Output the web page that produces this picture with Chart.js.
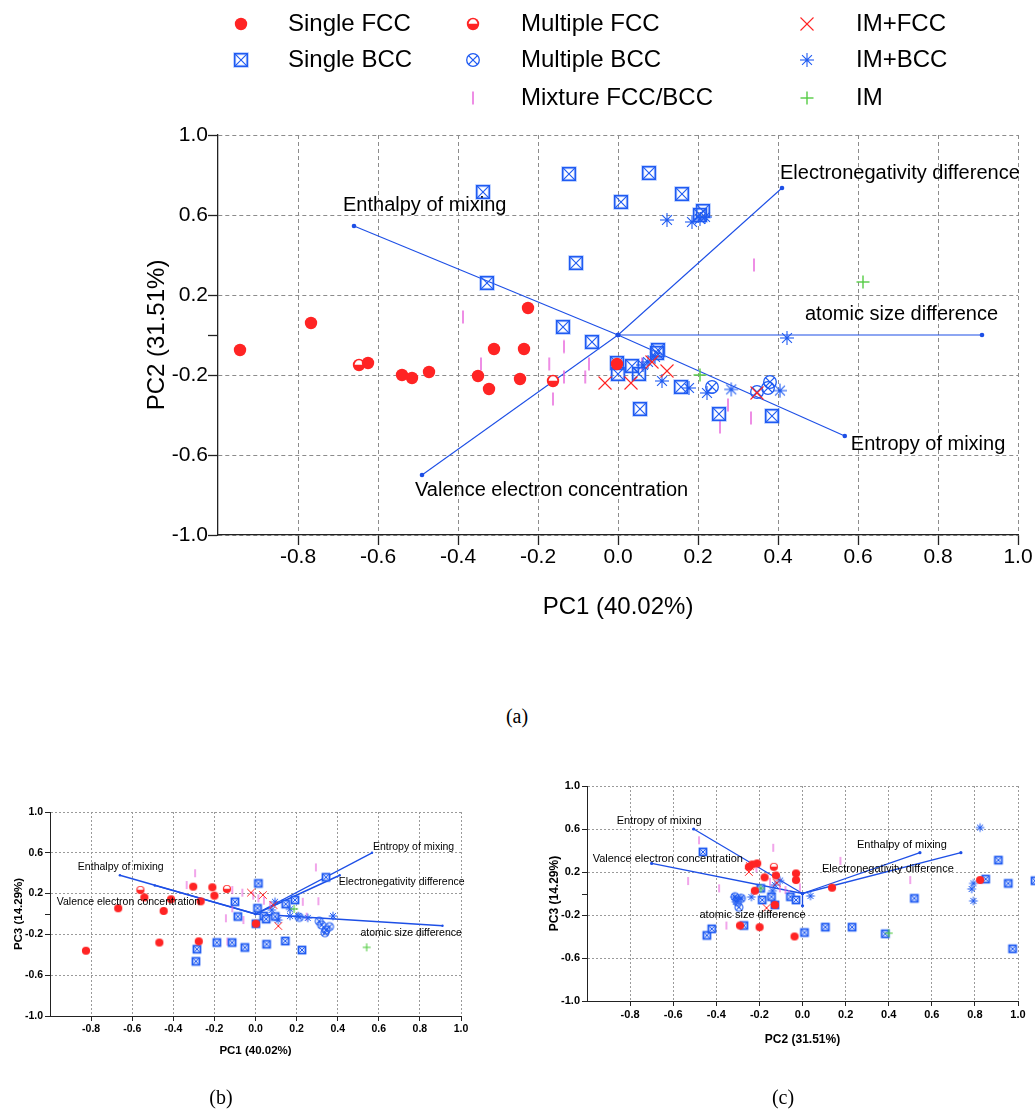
<!DOCTYPE html>
<html>
<head>
<meta charset="utf-8">
<script src="https://cdn.jsdelivr.net/npm/chart.js@4.4.1/dist/chart.umd.min.js"></script>
<style>
  html, body { margin: 0; padding: 0; background: #fff; }
  #page { position: relative; width: 1035px; height: 1110px; overflow: hidden; }
  canvas { position: absolute; }
  #chartA { left: 0; top: 0; }
  #chartB { left: 0; top: 770px; }
  #chartC { left: 520px; top: 760px; }
  .cap { position: absolute; font: 20px "Liberation Serif", "Times New Roman", serif; color: #000; transform: translate(-50%, -50%); }
</style>
</head>
<body>
<div id="page">
  <canvas id="chartA" width="1035" height="660"></canvas>
  <canvas id="chartB" width="520" height="340"></canvas>
  <canvas id="chartC" width="515" height="350"></canvas>
  <div class="cap" style="left:517px;top:716px">(a)</div>
  <div class="cap" style="left:221px;top:1097px">(b)</div>
  <div class="cap" style="left:783px;top:1097px">(c)</div>
</div>
<script>
// phase classes
const classKeys = ["singleFCC", "multiFCC", "imFCC", "singleBCC", "multiBCC", "imBCC", "mixture", "im"];
const classNames = ["Single FCC", "Multiple FCC", "IM+FCC", "Single BCC", "Multiple BCC", "IM+BCC", "Mixture FCC/BCC", "IM"];

// loading vectors
const loadingNames = ["Enthalpy of mixing", "Electronegativity difference", "atomic size difference", "Entropy of mixing", "Valence electron concentration"];
const loadPC1 = [-0.66, 0.41, 0.91, 0.567, -0.49];
const loadPC2 = [0.545, 0.735, 0.0, -0.505, -0.70];
const loadPC3 = [0.38, 0.38, -0.115, 0.60, 0.28];

// axis ticks
const xTickValues = [-0.8, -0.6, -0.4, -0.2, 0.0, 0.2, 0.4, 0.6, 0.8, 1.0];
const yTickValues = [-1.0, -0.6, -0.2, 0.2, 0.6, 1.0];
const yMinorTicks = [0.0];

// scores, PC1 vs PC2
const aSingleFCC = [[-0.945, -0.075], [-0.7675, 0.06], [-0.625, -0.14], [-0.54, -0.2], [-0.515, -0.215], [-0.4725, -0.185], [-0.35, -0.205], [-0.3225, -0.27], [-0.31, -0.07], [-0.235, -0.07], [-0.245, -0.22], [-0.225, 0.135], [-0.0025, -0.145]];
const aMultiFCC = [[-0.6475, -0.15], [-0.1625, -0.23]];
const aIMFCC = [[-0.0325, -0.24], [0.0325, -0.24], [0.1225, -0.18], [0.085, -0.135], [0.3475, -0.29]];
const aSingleBCC = [[-0.3375, 0.715], [-0.1225, 0.805], [0.0775, 0.81], [0.16, 0.705], [0.2125, 0.62], [0.205, 0.6], [0.0075, 0.665], [-0.105, 0.36], [-0.3275, 0.26], [-0.1375, 0.04], [-0.065, -0.035], [-0.0025, -0.14], [0.0, -0.195], [0.035, -0.155], [0.0525, -0.195], [0.1, -0.075], [0.0975, -0.09], [0.055, -0.37], [0.1575, -0.26], [0.2525, -0.395], [0.385, -0.405]];
const aMultiBCC = [[0.235, -0.26], [0.3475, -0.285], [0.375, -0.265], [0.38, -0.235]];
const aIMBCC = [[0.4225, -0.015], [0.11, -0.23], [0.1775, -0.265], [0.2225, -0.29], [0.283, -0.272], [0.405, -0.278], [0.0625, -0.15], [0.075, -0.135], [0.0925, -0.11], [0.1225, 0.575], [0.185, 0.565], [0.205, 0.58], [0.2175, 0.59]];
const aMixture = [[-0.3875, 0.09], [-0.3425, -0.145], [-0.172, -0.145], [-0.135, -0.058], [-0.135, -0.21], [-0.1625, -0.32], [-0.082, -0.21], [-0.0725, -0.145], [0.06, -0.145], [0.275, -0.35], [0.255, -0.46], [0.3325, -0.415], [0.34, 0.35]];
const aIM = [[0.205, -0.2], [0.6125, 0.265]];

// scores, PC1 vs PC3
const bSingleFCC = [[-0.825, -0.36], [-0.668, 0.056], [-0.541, 0.163], [-0.447, 0.03], [-0.411, 0.144], [-0.468, -0.28], [-0.303, 0.268], [-0.267, 0.124], [-0.276, -0.268], [-0.21, 0.262], [-0.2, 0.18], [0.002, -0.095]];
const bMultiFCC = [[-0.56, 0.235], [-0.139, 0.245]];
const bIMFCC = [[-0.022, 0.21], [0.036, 0.186], [0.087, 0.088], [0.111, -0.118]];
const bSingleBCC = [[0.014, 0.3], [-0.1, 0.12], [-0.086, -0.025], [0.01, 0.056], [0.04, -0.02], [0.052, -0.05], [0.096, -0.024], [0.147, 0.097], [0.192, 0.137], [0.343, 0.36], [0.002, -0.095], [-0.285, -0.345], [-0.29, -0.464], [-0.188, -0.28], [-0.114, -0.28], [-0.052, -0.328], [0.054, -0.297], [0.145, -0.265], [0.226, -0.353]];
const bMultiBCC = [[0.213, -0.033], [0.31, -0.07], [0.322, -0.108], [0.343, -0.157], [0.338, -0.183], [0.36, -0.124]];
const bIMBCC = [[0.079, 0.04], [0.095, 0.12], [0.111, -0.06], [0.168, 0.046], [0.168, -0.02], [0.208, -0.02], [0.254, -0.038], [0.377, -0.02]];
const bMixture = [[-0.294, 0.4], [-0.335, 0.284], [-0.113, 0.235], [-0.064, 0.209], [-0.011, 0.18], [-0.113, 0.056], [-0.144, -0.042], [-0.059, -0.059], [-0.137, -0.27], [0.294, 0.457], [0.306, 0.125], [0.23, 0.12], [0.249, -0.026], [0.014, 0.154], [0.071, 0.088], [0.041, 0.13]];
const bIM = [[0.541, -0.327], [0.188, 0.05]];

// scores, PC2 vs PC3
const cSingleFCC = [[-0.29, -0.298], [-0.199, -0.313], [-0.037, -0.4], [-0.221, 0.026], [-0.176, 0.15], [-0.21, 0.28], [-0.233, 0.27], [-0.249, 0.248], [-0.123, 0.168], [-0.03, 0.187], [-0.03, 0.125], [0.137, 0.054], [0.824, 0.125], [-0.128, -0.106]];
const cMultiFCC = [[-0.133, 0.248]];
const cIMFCC = [[-0.249, 0.2], [-0.244, 0.255], [-0.12, 0.1], [-0.167, -0.134]];
const cSingleBCC = [[-0.462, 0.387], [-0.444, -0.39], [-0.421, -0.329], [-0.272, -0.298], [-0.194, 0.048], [-0.187, -0.06], [-0.144, -0.03], [-0.056, -0.03], [-0.03, -0.06], [-0.128, -0.106], [0.009, -0.363], [0.106, -0.313], [0.23, -0.313], [0.384, -0.375], [0.519, -0.045], [0.909, 0.31], [0.85, 0.134], [0.955, 0.094], [0.975, -0.514], [1.079, 0.119]];
const cMultiBCC = [[-0.313, -0.03], [-0.284, -0.045], [-0.302, -0.076], [-0.295, -0.128]];
const cIMBCC = [[0.824, 0.613], [0.793, 0.094], [0.785, 0.042], [0.793, -0.069], [0.037, -0.023], [-0.237, -0.033], [-0.315, -0.032], [-0.287, -0.044], [-0.31, -0.076], [-0.104, 0.12], [-0.128, 0.079], [-0.139, 0.026]];
const cMixture = [[-0.48, 0.495], [-0.136, 0.425], [-0.531, 0.116], [-0.387, 0.048], [-0.353, -0.298], [0.176, 0.304], [0.5, 0.125], [-0.151, 0.109], [-0.105, 0.048], [-0.079, 0.032], [-0.012, 0.057], [-0.214, 0.233], [-0.063, -0.005]];
const cIM = [[-0.194, 0.048], [0.4, -0.369]];

const RED = "#ff2424";
const BLUE = "#1f5bf2";
const PINK = "#e868dc";
const GREEN = "#55cc44";
const VEC = "#1d4fe6";

// higher order is painted first
const drawOrder = [2, 3, 5, 8, 6, 7, 9, 4];

Chart.defaults.font.family = '"Liberation Sans", Arial, sans-serif';
Chart.defaults.color = "#000";

function line(g, x1, y1, x2, y2) {
  g.beginPath();
  g.moveTo(x1, y1);
  g.lineTo(x2, y2);
  g.stroke();
}

function makeMarker(kind, big) {
  const size = big ? 24 : 14;
  const c = document.createElement("canvas");
  c.width = c.height = size;
  const g = c.getContext("2d");
  g.translate(size / 2, size / 2);
  g.lineCap = "butt";
  if (kind === "singleFCC" || kind === "multiFCC") {
    const r = big ? 6.2 : 4.1;
    g.fillStyle = RED;
    g.beginPath(); g.arc(0, 0, r, 0, Math.PI * 2); g.fill();
    if (kind === "multiFCC") {
      g.fillStyle = "#fff";
      g.beginPath(); g.arc(0, -0.3, r * 0.7, Math.PI, Math.PI * 2); g.closePath(); g.fill();
    }
  } else if (kind === "singleBCC") {
    if (big) {
      const h = 6.3;
      g.strokeStyle = "rgba(90,140,255,0.35)"; g.lineWidth = 3.2;
      g.strokeRect(-h, -h, 2 * h, 2 * h);
      g.strokeStyle = BLUE; g.lineWidth = 1.5;
      g.strokeRect(-h, -h, 2 * h, 2 * h);
      g.lineWidth = 1.1;
      line(g, -h, -h, h, h); line(g, -h, h, h, -h);
    } else {
      const h = 4.4;
      g.fillStyle = BLUE;
      g.fillRect(-h, -h, 2 * h, 2 * h);
      g.fillStyle = "#dfe8ff";
      g.fillRect(-2.6, -2.6, 5.2, 5.2);
      g.strokeStyle = BLUE; g.lineWidth = 1;
      line(g, -2.6, -2.6, 2.6, 2.6); line(g, -2.6, 2.6, 2.6, -2.6);
    }
  } else if (kind === "multiBCC") {
    const r = big ? 6.3 : 4;
    const k = r * 0.7;
    g.strokeStyle = BLUE; g.lineWidth = big ? 1.3 : 1.1;
    g.beginPath(); g.arc(0, 0, r, 0, Math.PI * 2); g.stroke();
    line(g, -k, -k, k, k); line(g, -k, k, k, -k);
  } else if (kind === "mixture") {
    const h = big ? 6.5 : 4;
    g.strokeStyle = PINK; g.lineWidth = big ? 1.5 : 1.2;
    line(g, 0, -h, 0, h);
  } else if (kind === "imFCC") {
    const h = big ? 6.5 : 3.8;
    g.strokeStyle = RED; g.lineWidth = big ? 1.1 : 1;
    line(g, -h, -h, h, h); line(g, -h, h, h, -h);
  } else if (kind === "imBCC") {
    const r = big ? 7 : 4.3;
    g.strokeStyle = BLUE; g.lineWidth = big ? 1.1 : 1;
    for (let a = 0; a < 4; a++) {
      const t = a * Math.PI / 4;
      line(g, -r * Math.cos(t), -r * Math.sin(t), r * Math.cos(t), r * Math.sin(t));
    }
    g.fillStyle = BLUE;
    g.beginPath(); g.arc(0, 0, big ? 1.6 : 1.3, 0, Math.PI * 2); g.fill();
  } else if (kind === "im") {
    const h = big ? 6.5 : 4;
    g.strokeStyle = GREEN; g.lineWidth = big ? 1.4 : 1.1;
    line(g, -h, 0, h, 0); line(g, 0, -h, 0, h);
  }
  return c;
}

const bigMarkers = {};
const smallMarkers = {};
classKeys.forEach((k) => {
  bigMarkers[k] = makeMarker(k, true);
  smallMarkers[k] = makeMarker(k, false);
});

function pointSets(series, markers) {
  return classKeys.map((key, i) => ({
    label: classNames[i],
    data: series[i].map(([x, y]) => ({ x, y })),
    pointStyle: markers[key],
    pointRadius: 20,
    pointHoverRadius: 20,
    order: drawOrder[i],
    clip: false
  }));
}

function vectorSets(xs, ys, width, tipR) {
  return loadingNames.map((name, i) => ({
    label: name,
    data: [{ x: 0, y: 0 }, { x: xs[i], y: ys[i] }],
    showLine: true,
    borderColor: VEC,
    borderWidth: width,
    pointRadius: tipR,
    pointBorderWidth: 0,
    pointBackgroundColor: VEC,
    pointStyle: "circle",
    order: 20
  }));
}

function fmt(v) {
  return Math.abs(v) < 1e-9 ? "0.0" : Number(v).toFixed(1);
}

// the scale box is held at a fixed size so the plot area lands where wanted
function axis(values, boxSize, font, tickLen, pad, gridColor, dash, borderW) {
  return {
    type: "linear",
    min: -1,
    max: 1,
    afterBuildTicks: (s) => { s.ticks = values.map((v) => ({ value: v })); },
    afterFit: (s) => { if (s.isHorizontal()) s.height = boxSize; else s.width = boxSize; },
    ticks: { font, padding: pad, color: "#000", autoSkip: false, maxRotation: 0, minRotation: 0, callback: fmt },
    grid: { color: gridColor, lineWidth: 1, tickLength: tickLen, tickColor: "#222", tickWidth: borderW },
    border: { display: true, color: "#222", width: borderW, dash }
  };
}

// titles, loading labels, minor ticks and the class key
const overlay = {
  id: "overlay",
  afterDraw(chart, args, o) {
    const { ctx, chartArea: a, scales: { x, y } } = chart;
    ctx.save();
    ctx.strokeStyle = "#222";
    ctx.lineWidth = o.borderW;
    yMinorTicks.forEach((v) => {
      const py = Math.round(y.getPixelForValue(v)) + 0.5;
      line(ctx, a.left - o.tickLen, py, a.left, py);
    });

    ctx.fillStyle = "#000";
    ctx.textBaseline = "middle";
    ctx.textAlign = "left";
    ctx.font = o.labelFont;
    loadingNames.forEach((name, i) => {
      const px = x.getPixelForValue(o.vx[i]);
      const py = y.getPixelForValue(o.vy[i]);
      ctx.fillText(name, px + o.offsets[i][0], py + o.offsets[i][1]);
    });

    ctx.textAlign = "center";
    ctx.font = o.titleFont;
    ctx.fillText(o.xTitle, (a.left + a.right) / 2, a.bottom + o.xTitleGap);
    ctx.save();
    ctx.translate(a.left - o.yTitleGap, (a.top + a.bottom) / 2);
    ctx.rotate(-Math.PI / 2);
    ctx.fillText(o.yTitle, 0, 0);
    ctx.restore();

    if (o.key) {
      ctx.textAlign = "left";
      ctx.font = o.key.font;
      classKeys.forEach((k, i) => {
        const [col, row] = o.key.slots[i];
        const sx = o.key.symbolX[col];
        const sy = o.key.rowY[row];
        const m = bigMarkers[k];
        ctx.drawImage(m, sx - m.width / 2, sy - m.height / 2);
        ctx.fillText(classNames[i], o.key.textX[col], sy);
      });
    }
    ctx.restore();
  }
};

function makeChart(id, series, markers, vx, vy, cfg) {
  const f = cfg.tickFont;
  const box = cfg.box;
  return new Chart(document.getElementById(id), {
    type: "scatter",
    data: { datasets: vectorSets(vx, vy, cfg.vecWidth, cfg.tipR).concat(pointSets(series, markers)) },
    options: {
      responsive: false,
      animation: false,
      events: [],
      devicePixelRatio: 1,
      layout: { padding: { left: 0, bottom: 0, top: box.top, right: box.right }, autoPadding: false },
      scales: {
        x: axis(xTickValues, box.bottom, f, cfg.tickLen, cfg.xPad, cfg.gridColor, cfg.dash, cfg.borderW),
        y: axis(yTickValues, box.left, f, cfg.tickLen, cfg.yPad, cfg.gridColor, cfg.dash, cfg.borderW)
      },
      plugins: {
        legend: { display: false },
        tooltip: { enabled: false },
        overlay: {
          vx, vy,
          offsets: cfg.offsets,
          labelFont: cfg.labelFont,
          titleFont: cfg.titleFont,
          xTitle: cfg.xTitle,
          yTitle: cfg.yTitle,
          xTitleGap: cfg.xTitleGap,
          yTitleGap: cfg.yTitleGap,
          tickLen: cfg.tickLen,
          borderW: cfg.borderW,
          key: cfg.key || null
        }
      }
    },
    plugins: [overlay]
  });
}

makeChart("chartA",
  [aSingleFCC, aMultiFCC, aIMFCC, aSingleBCC, aMultiBCC, aIMBCC, aMixture, aIM],
  bigMarkers, loadPC1, loadPC2, {
    box: { left: 218, right: 17, top: 135, bottom: 125 },
    tickFont: { size: 21 },
    tickLen: 10, xPad: 0, yPad: 0,
    gridColor: "#8c8c8c", dash: [4, 3], borderW: 1.3,
    vecWidth: 1.1, tipR: 2.3,
    labelFont: '20px "Liberation Sans", Arial, sans-serif',
    titleFont: '24px "Liberation Sans", Arial, sans-serif',
    xTitle: "PC1 (40.02%)", yTitle: "PC2 (31.51%)",
    xTitleGap: 72, yTitleGap: 61,
    offsets: [[-11, -21], [-2, -15], [-177, -21], [6, 8], [-7, 15]],
    key: {
      font: '24px "Liberation Sans", Arial, sans-serif',
      symbolX: [241, 473, 807],
      textX: [288, 521, 856],
      rowY: [24, 60, 98],
      slots: [[0, 0], [1, 0], [2, 0], [0, 1], [1, 1], [2, 1], [1, 2], [2, 2]]
    }
  });

makeChart("chartB",
  [bSingleFCC, bMultiFCC, bIMFCC, bSingleBCC, bMultiBCC, bIMBCC, bMixture, bIM],
  smallMarkers, loadPC1, loadPC3, {
    box: { left: 50, right: 59, top: 42, bottom: 94 },
    tickFont: { size: 10.5, weight: "bold" },
    tickLen: 5, xPad: 2, yPad: 2,
    gridColor: "#9a9a9a", dash: [2, 2], borderW: 1,
    vecWidth: 1.4, tipR: 1.2,
    labelFont: '10.5px "Liberation Sans", Arial, sans-serif',
    titleFont: 'bold 11.5px "Liberation Sans", Arial, sans-serif',
    xTitle: "PC1 (40.02%)", yTitle: "PC3 (14.29%)",
    xTitleGap: 35, yTitleGap: 31,
    offsets: [[-42, -8], [-1, 7], [-82, 7], [1, -6], [-98, 17]]
  });

makeChart("chartC",
  [cSingleFCC, cMultiFCC, cIMFCC, cSingleBCC, cMultiBCC, cIMBCC, cMixture, cIM],
  smallMarkers, loadPC2, loadPC3, {
    box: { left: 67, right: 17, top: 26, bottom: 109 },
    tickFont: { size: 11, weight: "bold" },
    tickLen: 5, xPad: 2, yPad: 2,
    gridColor: "#9a9a9a", dash: [2, 2], borderW: 1,
    vecWidth: 1.3, tipR: 1.6,
    labelFont: '11px "Liberation Sans", Arial, sans-serif',
    titleFont: 'bold 12px "Liberation Sans", Arial, sans-serif',
    xTitle: "PC2 (31.51%)", yTitle: "PC3 (14.29%)",
    xTitleGap: 39, yTitleGap: 32,
    offsets: [[-63, -8], [-139, 16], [-103, 9], [-77, -8], [-59, -4]]
  });
</script>
</body>
</html>
